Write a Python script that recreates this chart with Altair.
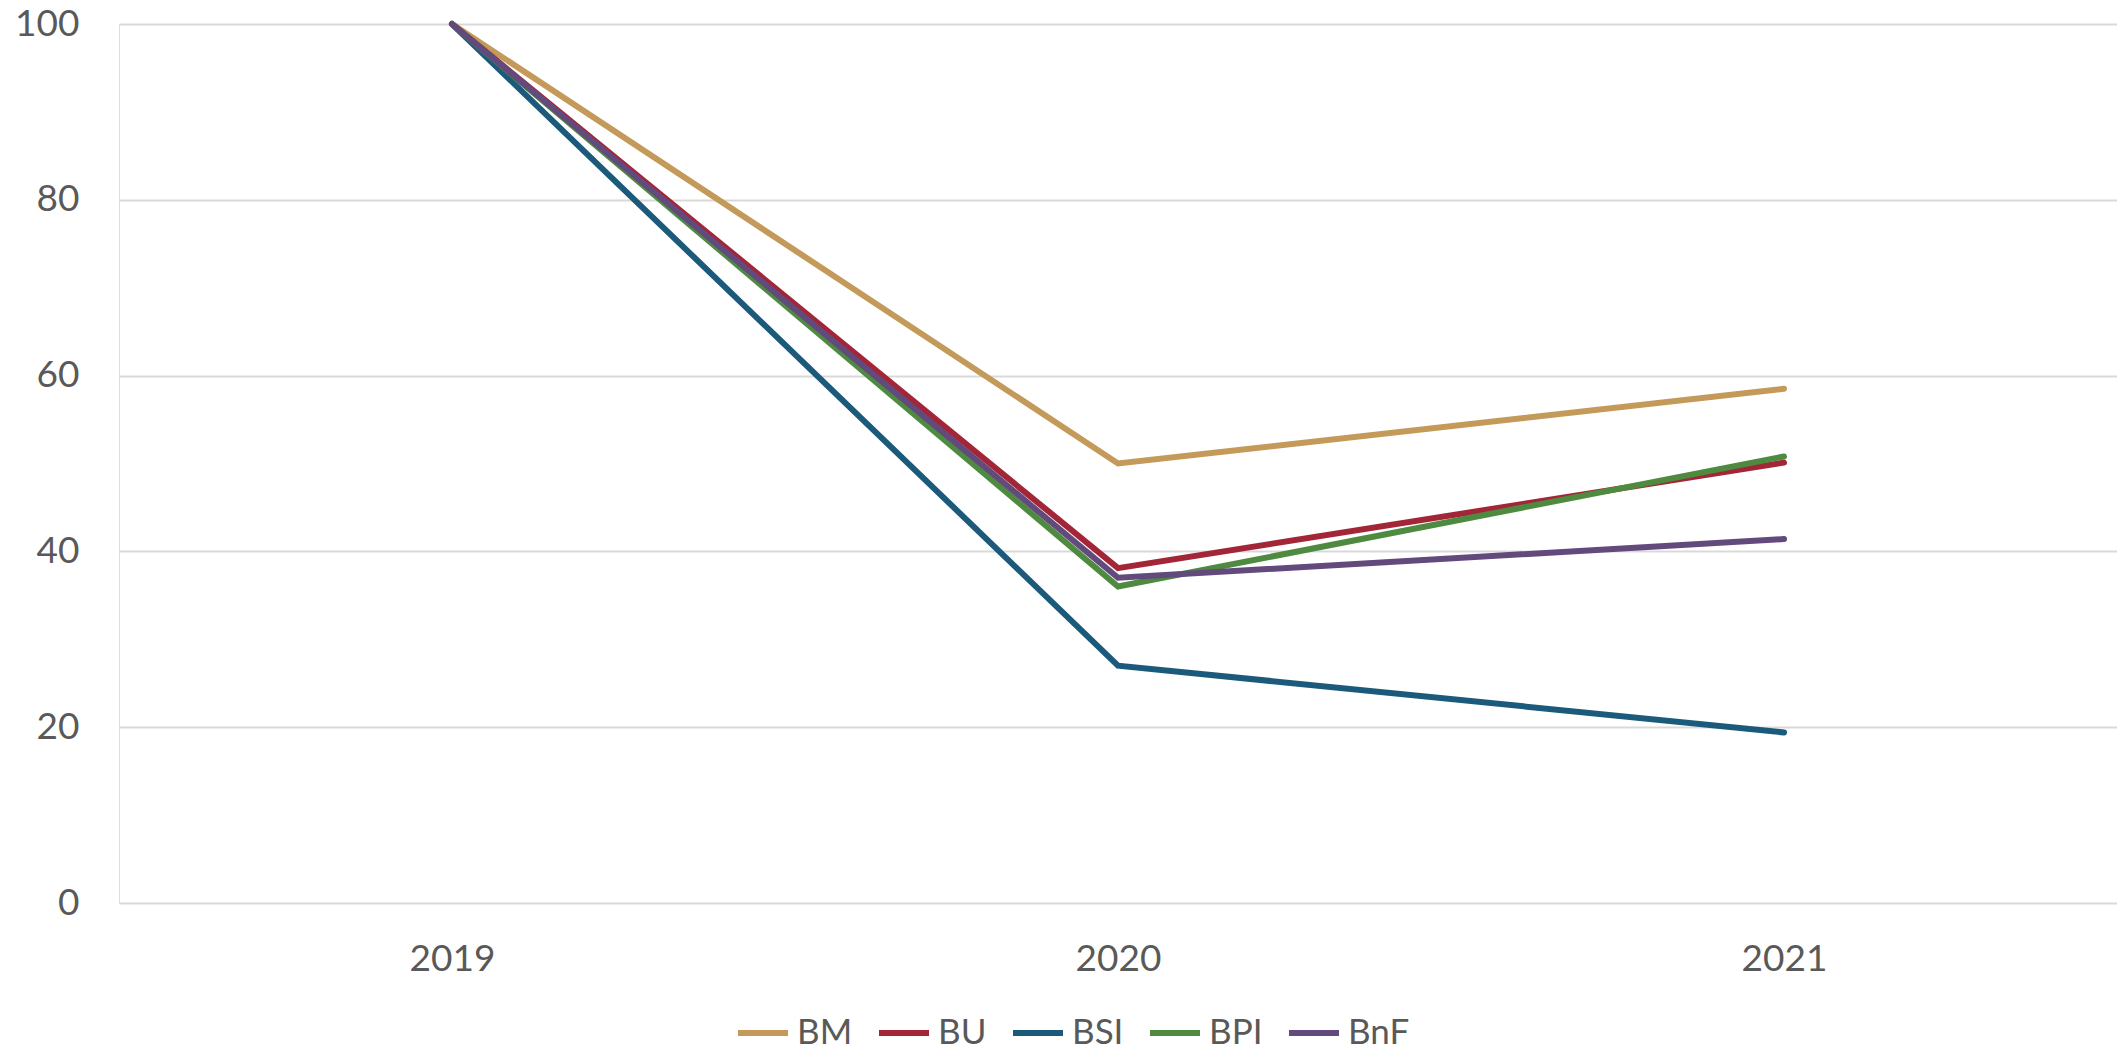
import altair as alt
import pandas as pd

years = ["2019", "2020", "2021"]
series = ["BM", "BU", "BSI", "BPI", "BnF"]
bm = [100, 50.0, 58.5]
bu = [100, 38.1, 50.1]
bsi = [100, 27.0, 19.4]
bpi = [100, 36.0, 50.8]
bnf = [100, 37.0, 41.4]
colors = ["#C49A5A", "#A32638", "#1C5A7C", "#4E8A3F", "#624A7C"]

values = [bm, bu, bsi, bpi, bnf]
rows = []
for s, vals in zip(series, values):
    for y, v in zip(years, vals):
        rows.append({"year": y, "series": s, "value": v})
df = pd.DataFrame(rows)

FONT = "Lato"
TXT = "#595959"

chart = (
    alt.Chart(df)
    .mark_line(strokeWidth=6, strokeCap="round", strokeJoin="miter")
    .encode(
        x=alt.X(
            "year:O",
            sort=years,
            scale=alt.Scale(type="point", padding=0.5),
            axis=alt.Axis(
                title=None,
                labelAngle=0,
                labelFontSize=37,
                labelFont=FONT,
                labelColor=TXT,
                labelPadding=38,
                ticks=False,
                domain=False,
                grid=False,
            ),
        ),
        y=alt.Y(
            "value:Q",
            scale=alt.Scale(domain=[0, 100], nice=False, zero=True),
            axis=alt.Axis(
                title=None,
                values=[0, 20, 40, 60, 80, 100],
                labelFontSize=37,
                labelFont=FONT,
                labelColor=TXT,
                labelPadding=40,
                ticks=False,
                domain=False,
                grid=True,
                gridColor="#D9D9D9",
                gridWidth=2,
            ),
        ),
        color=alt.Color(
            "series:N",
            sort=series,
            scale=alt.Scale(domain=series, range=colors),
            legend=alt.Legend(
                title=None,
                orient="none",
                direction="horizontal",
                legendX=616,
                legendY=981,
                symbolType="stroke",
                symbolSize=2500,
                symbolStrokeWidth=6,
                labelFontSize=35,
                labelFont=FONT,
                labelColor=TXT,
                labelOffset=6,
                columnPadding=14,
                padding=0,
            ),
        ),
    )
    .properties(
        width=1998,
        height=879,
        padding={"left": 111, "top": 16, "right": 0, "bottom": 150},
        autosize=alt.AutoSizeParams(type="none"),
    )
    .configure_view(stroke=None)
    .configure(font=FONT)
)

chart.save("out.html", embed_options={"renderer": "svg", "actions": False})
